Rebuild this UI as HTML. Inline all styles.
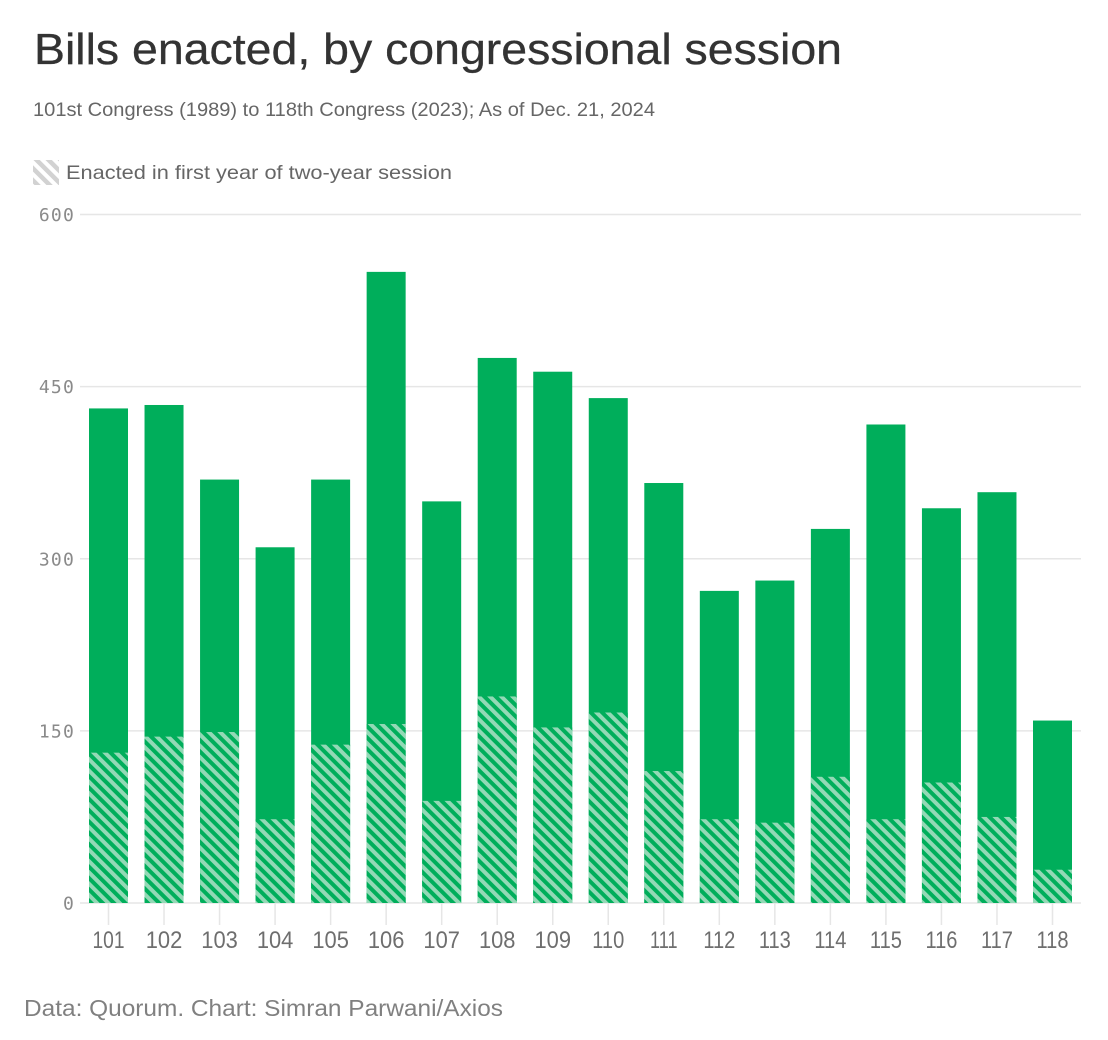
<!DOCTYPE html>
<html lang="en">
<head>
<meta charset="utf-8">
<title>Bills enacted, by congressional session</title>
<style>
html,body{margin:0;padding:0;background:#fff;}
svg{display:block;}
text{font-family:"Liberation Sans",sans-serif;}
.mono{font-family:"DejaVu Sans Mono","Liberation Mono",monospace;}
</style>
</head>
<body>
<svg id="chart" width="1108" height="1040" viewBox="0 0 1108 1040" xmlns="http://www.w3.org/2000/svg">
  <defs>
    <pattern id="hatch-bar" patternUnits="userSpaceOnUse" width="8" height="8" patternTransform="rotate(45 0 0)">
      <rect width="8" height="8" fill="#00ae5b"></rect>
      <rect width="8" height="4" fill="#93d9b6"></rect>
    </pattern>
    <pattern id="hatch-legend" patternUnits="userSpaceOnUse" width="8.5" height="8.5" patternTransform="rotate(45 0 0)">
      <rect width="8.5" height="8.5" fill="#ffffff"></rect>
      <rect width="8.5" height="4.5" fill="#d2d2d2"></rect>
    </pattern>
  </defs>
  <text x="34" y="64" font-size="44" fill="#333333" stroke="#333333" stroke-width="0.3" textLength="808" lengthAdjust="spacingAndGlyphs">Bills enacted, by congressional session</text>
  <text x="33" y="116" font-size="19.5" fill="#666666" textLength="622" lengthAdjust="spacingAndGlyphs">101st Congress (1989) to 118th Congress (2023); As of Dec. 21, 2024</text>
  <rect x="33" y="160" width="26" height="25" fill="url(#hatch-legend)"></rect>
  <text x="66" y="179" font-size="19.5" fill="#666666" textLength="386" lengthAdjust="spacingAndGlyphs">Enacted in first year of two-year session</text>
  <g id="grid"></g>
  <g id="bars"></g>
  <g id="xaxis"></g>
  <text x="24" y="1016" font-size="23" fill="#808080" textLength="479" lengthAdjust="spacingAndGlyphs">Data: Quorum. Chart: Simran Parwani/Axios</text>
</svg>
<script>
const categories = ["101","102","103","104","105","106","107","108","109","110","111","112","113","114","115","116","117","118"];
const totalBills = [431,434,369,310,369,550,350,475,463,440,366,272,281,326,417,344,358,159];
const firstYearBills = [131,145,149,73,138,156,89,180,153,166,115,73,70,110,73,105,75,29];
const yTicks = [0,150,300,450,600];

const NS = 'http://www.w3.org/2000/svg';
const plotBottom = 903;
const plotTop = 214.5;
const yMax = 600;
const firstCenter = 108.5;
const lastCenter = 1052.5;
const barWidth = 39;

function yScale(v) {
  return plotBottom - (v / yMax) * (plotBottom - plotTop);
}
function xScale(i) {
  return firstCenter + i * (lastCenter - firstCenter) / (categories.length - 1);
}
function make(tag, attrs, parent) {
  const el = document.createElementNS(NS, tag);
  for (const k in attrs) el.setAttribute(k, attrs[k]);
  parent.appendChild(el);
  return el;
}

const grid = document.getElementById('grid');
const bars = document.getElementById('bars');
const xaxis = document.getElementById('xaxis');

yTicks.forEach(function (t) {
  const line = make('rect', {x: 80, y: yScale(t) - 0.75, width: 1001, height: 1.5, fill: '#e6e6e6'}, grid);
  
  
  const label = make('text', {x: 75, y: yScale(t) + 6.5, 'font-size': 18, fill: '#8a8a8a', 'text-anchor': 'end', 'letter-spacing': 1.2, class: 'mono'}, grid);
  label.textContent = String(t);
  
  
});

categories.forEach(function (c, i) {
  const cx = xScale(i);
  const x = cx - barWidth / 2;
  const full = make('rect', {x: x, y: yScale(totalBills[i]), width: barWidth, height: plotBottom - yScale(totalBills[i]), fill: '#00ae5b'}, bars);
  
  
  const first = make('rect', {x: x, y: yScale(firstYearBills[i]), width: barWidth, height: plotBottom - yScale(firstYearBills[i]), fill: 'url(#hatch-bar)'}, bars);
  
  
  const tick = make('rect', {x: cx - 0.75, y: plotBottom, width: 1.5, height: 22, fill: '#e6e6e6'}, xaxis);
  
  
  const ones = c.split('1').length - 1;
  const label = make('text', {x: cx, y: 948, 'font-size': 24, fill: '#6e6e6e', 'text-anchor': 'middle', textLength: 41 - ones * 4.5, lengthAdjust: 'spacingAndGlyphs'}, xaxis);
  label.textContent = c;
  
  
});
</script>
</body>
</html>
